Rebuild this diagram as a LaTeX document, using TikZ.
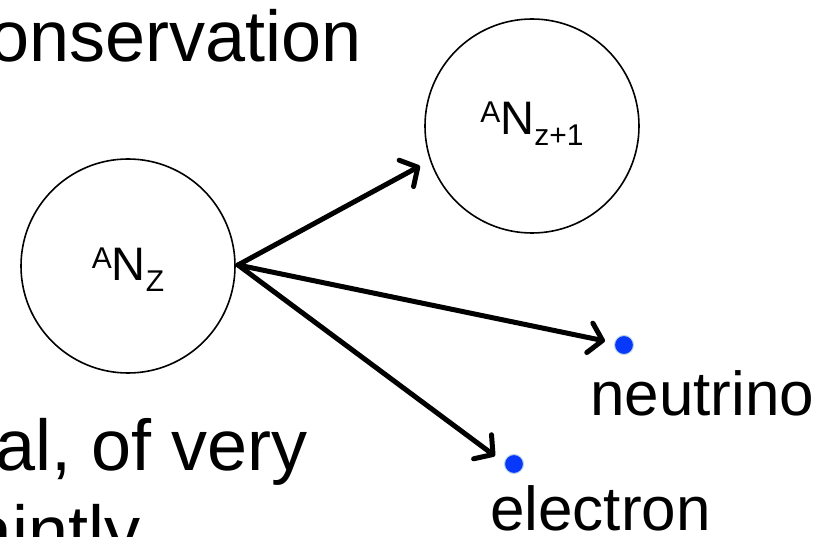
\documentclass[tikz,border=0pt]{standalone}
\usepackage{fontspec}
\setmainfont{Liberation Sans}
\usetikzlibrary{arrows.meta}
\definecolor{dotblue}{RGB}{8,56,250}
\definecolor{halo}{RGB}{190,215,230}
\tikzset{
  nucleus/.style={circle, draw=black, line width=1.6pt, minimum size=214pt, inner sep=0pt},
  arr/.style={line width=5pt, line cap=round, -{Straight Barb[length=13pt,width=30pt,line cap=round,line join=round]}},
  particle/.style={circle, fill=dotblue, draw=halo, line width=1pt, minimum size=19pt, inner sep=0pt},
  big/.style={font=\fontsize{72}{86}\selectfont, inner sep=0pt},
  lbl/.style={font=\fontsize{62}{74}\selectfont, inner sep=0pt},
}
\newcommand{\nucl}[2]{{\fontsize{47}{50}\selectfont\raisebox{12pt}{\fontsize{30}{32}\selectfont A}N\raisebox{-11pt}{\fontsize{30}{32}\selectfont #1}}}
\begin{document}
\begin{tikzpicture}[x=1pt,y=-1pt]
\useasboundingbox (0,0) rectangle (825,537);
% background text fragments (cut off by page edge)
\node[big, anchor=base east] (t1) at (362,62) {Conservation};
\node[big, anchor=base east] (t2) at (308,470) {neutral, of very};
\node[big, anchor=base east] (t3) at (141,556) {faintly};
% nuclei
\node[nucleus] (nz) at (128,266) {};
\node at (128,270) {\nucl{Z}{}};
\node[nucleus] (nz1) at (532,126) {};
\node at (532,124) {\nucl{z+1}{}};
% particles
\node[particle] (nu) at (624,345) {};
\node[particle] (el) at (514,464) {};
\node[lbl, anchor=base west] (nulbl) at (590,415) {neutrino};
\node[lbl, anchor=base west] (ellbl) at (490,530) {electron};
% arrows
\coordinate (src) at (238,265);
\coordinate (tip1) at (420,166);
\coordinate (tip2) at (605,341);
\coordinate (tip3) at (495,456);
\draw[arr] (src) -- (tip1);
\draw[arr] (src) -- (tip2);
\draw[arr] (src) -- (tip3);
\end{tikzpicture}
\end{document}
